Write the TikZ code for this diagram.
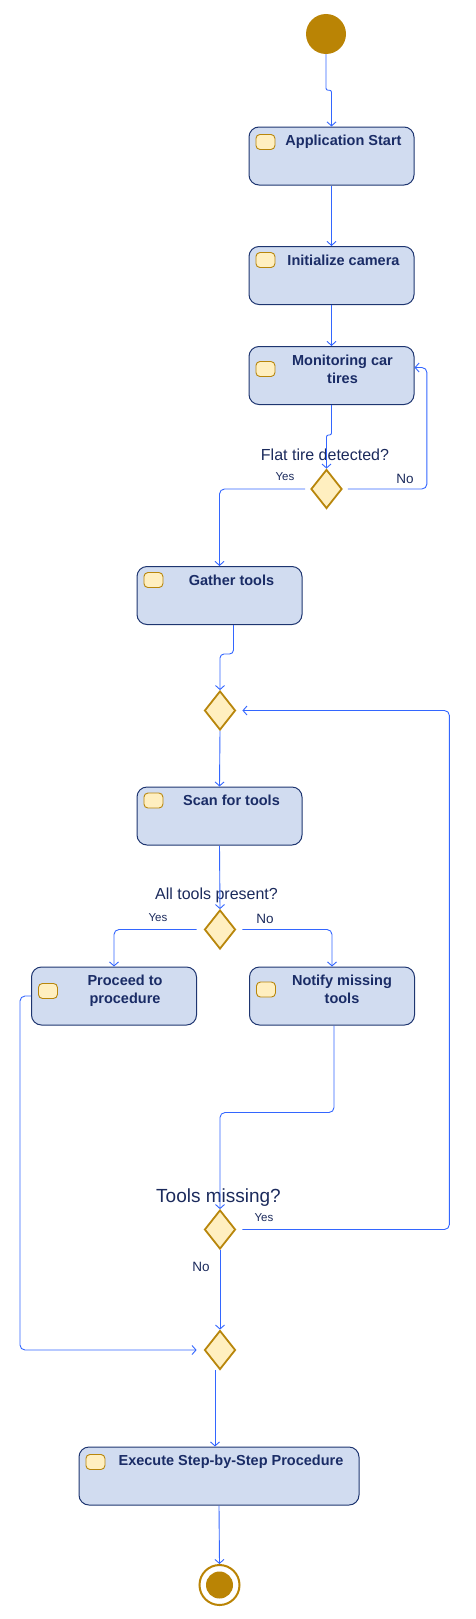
\documentclass[tikz,border=0pt]{standalone}
\usepackage{fontspec}
\setmainfont{Liberation Sans}
\usetikzlibrary{positioning, shapes.geometric, arrows.meta}

\definecolor{ActionFill}{HTML}{D1DCF0}
\definecolor{ActionBorder}{HTML}{1E3570}
\definecolor{ActionText}{HTML}{1A2C66}
\definecolor{LabelText}{HTML}{1B2A5C}
\definecolor{GoldFill}{HTML}{FFEFC0}
\definecolor{GoldBorder}{HTML}{B8860B}
\definecolor{FlowBlue}{HTML}{3366FF}
\definecolor{TerminalGold}{HTML}{BA8405}

\tikzset
{
  ActionNodeStyle/.style =
  {
    shape = rectangle,
    rounded corners = 10pt,
    minimum width = 165pt,
    minimum height = 58pt,
    fill = ActionFill,
    draw = ActionBorder,
    line width = 1pt,
  },
  ActionTextStyle/.style =
  {
    font = \bfseries\fontsize{14.5}{18}\selectfont,
    text = ActionText,
    align = center,
    inner sep = 0pt,
  },
  IconStyle/.style =
  {
    shape = rectangle,
    rounded corners = 4pt,
    minimum width = 19pt,
    minimum height = 15pt,
    inner sep = 0pt,
    fill = GoldFill,
    draw = GoldBorder,
    line width = 0.9pt,
  },
  DecisionNodeStyle/.style =
  {
    shape = diamond,
    minimum width = 31pt,
    minimum height = 39pt,
    inner sep = 0pt,
    fill = GoldFill,
    draw = GoldBorder,
    line width = 1.8pt,
  },
  QuestionStyle/.style =
  {
    font = \fontsize{16}{19}\selectfont,
    text = LabelText,
    inner sep = 0pt,
  },
  BranchLabelStyle/.style =
  {
    font = \fontsize{11.5}{14}\selectfont,
    text = LabelText,
    inner sep = 0pt,
  },
  NoLabelStyle/.style =
  {
    BranchLabelStyle,
    font = \fontsize{13.5}{16}\selectfont,
  },
  StartNodeStyle/.style =
  {
    shape = circle,
    minimum size = 40pt,
    inner sep = 0pt,
    fill = TerminalGold,
  },
  EndNodeStyle/.style =
  {
    shape = circle,
    minimum size = 40pt,
    inner sep = 0pt,
    draw = TerminalGold,
    line width = 2pt,
    fill = white,
  },
  EndDotStyle/.style =
  {
    shape = circle,
    minimum size = 27pt,
    inner sep = 0pt,
    fill = TerminalGold,
  },
  FlowArrowStyle/.style =
  {
    draw = FlowBlue,
    line width = 0.9pt,
    rounded corners = 5pt,
    -{Straight Barb[length=4pt,width=9pt]},
  }
}

\begin{document}
\begin{tikzpicture}[x=1pt, y=-1pt]
  \useasboundingbox (0,0) rectangle (476,1619);

  \node[StartNodeStyle] (start) at (326,34) {};

  \node[ActionNodeStyle] (app) at (331.5,156) {};
  \node[ActionTextStyle, below=8.5pt of app.north, xshift=12pt] (apptext) {Application Start};
  \node[IconStyle, anchor=west, xshift=7pt] (appicon) at (app.west |- apptext) {};

  \node[ActionNodeStyle] (init) at (331.5,275.5) {};
  \node[ActionTextStyle, below=8.5pt of init.north, xshift=12pt] (inittext) {Initialize camera};
  \node[IconStyle, anchor=west, xshift=7pt] (initicon) at (init.west |- inittext) {};

  \node[ActionNodeStyle] (monitor) at (331.5,375.5) {};
  \node[ActionTextStyle, below=8.5pt of monitor.north, xshift=11pt] (monitortext) {Monitoring car\\tires};
  \node[IconStyle, anchor=west, xshift=7pt] (monitoricon) at (monitor.west |- monitortext) {};

  \node[DecisionNodeStyle] (flat) at (326.5,489) {};
  \node[QuestionStyle] (flatq) at (325,455) {Flat tire detected?};
  \node[BranchLabelStyle] (flatyes) at (285,477) {Yes};
  \node[NoLabelStyle] (flatno) at (405,479) {No};

  \node[ActionNodeStyle] (gather) at (219.5,595.5) {};
  \node[ActionTextStyle, below=8.5pt of gather.north, xshift=12pt] (gathertext) {Gather tools};
  \node[IconStyle, anchor=west, xshift=7pt] (gathericon) at (gather.west |- gathertext) {};

  \node[DecisionNodeStyle] (merge1) at (220,710.5) {};

  \node[ActionNodeStyle] (scan) at (219.5,816) {};
  \node[ActionTextStyle, below=8.5pt of scan.north, xshift=12pt] (scantext) {Scan for tools};
  \node[IconStyle, anchor=west, xshift=7pt] (scanicon) at (scan.west |- scantext) {};

  \node[DecisionNodeStyle] (present) at (220,929.5) {};
  \node[QuestionStyle] (presentq) at (216.5,895) {All tools present?};
  \node[BranchLabelStyle] (presentyes) at (158,918) {Yes};
  \node[NoLabelStyle] (presentno) at (265,919) {No};

  \node[ActionNodeStyle] (proceed) at (114,996) {};
  \node[ActionTextStyle, below=8.5pt of proceed.north, xshift=11pt] (proceedtext) {Proceed to\\procedure};
  \node[IconStyle, anchor=west, xshift=7pt] (proceedicon) at (proceed.west |- proceedtext) {};

  \node[ActionNodeStyle] (notify) at (332,996) {};
  \node[ActionTextStyle, below=8.5pt of notify.north, xshift=10pt] (notifytext) {Notify missing\\tools};
  \node[IconStyle, anchor=west, xshift=7pt] (notifyicon) at (notify.west |- notifytext) {};

  \node[DecisionNodeStyle] (missing) at (220,1229.5) {};
  \node[QuestionStyle, font=\fontsize{19}{22}\selectfont] (missingq) at (218.5,1198) {Tools missing?};
  \node[BranchLabelStyle] (missingyes) at (264,1218) {Yes};
  \node[NoLabelStyle] (missingno) at (201,1267) {No};

  \node[DecisionNodeStyle] (merge2) at (220,1350) {};

  \node[ActionNodeStyle, minimum width=280pt] (execute) at (219,1476) {};
  \node[ActionTextStyle, below=8.5pt of execute.north, xshift=12pt] (executetext) {Execute Step-by-Step Procedure};
  \node[IconStyle, anchor=west, xshift=7pt] (executeicon) at (execute.west |- executetext) {};

  \node[EndNodeStyle] (final) at (219.5,1585) {};
  \node[EndDotStyle] (finaldot) at (final) {};

  \draw[FlowArrowStyle, rounded corners=2pt] (start.south) -- ++(0,36) -| (app.north);
  \draw[FlowArrowStyle] (app.south) -- (init.north);
  \draw[FlowArrowStyle] (init.south) -- (monitor.north);
  \draw[FlowArrowStyle, rounded corners=2pt] (monitor.south) -- ++(0,30) -| (flat.north);
  \draw[FlowArrowStyle, shorten <=5pt] (flat.west) -| (gather.north);
  \draw[FlowArrowStyle, shorten <=5pt] (flat.east) -- ++(84,0) |- ([yshift=8pt]monitor.east);
  \draw[FlowArrowStyle, rounded corners=4pt] ([xshift=14pt]gather.south) -- ++(0,29) -| (merge1.north);
  \draw[FlowArrowStyle] (merge1.south) -- (scan.north);
  \draw[FlowArrowStyle] (scan.south) -- (present.north);
  \draw[FlowArrowStyle, shorten <=7pt] (present.west) -| (proceed.north);
  \draw[FlowArrowStyle, shorten <=6pt] (present.east) -| (notify.north);
  \draw[FlowArrowStyle] ([xshift=2pt]notify.south) -- ++(0,87) -| (missing.north);
  \draw[FlowArrowStyle, shorten <=6pt, shorten >=6pt] (missing.east) -- ++(213,0) |- (merge1.east);
  \draw[FlowArrowStyle] (missing.south) -- (merge2.north);
  \draw[FlowArrowStyle, shorten >=7pt] (proceed.west) -- ++(-11,0) |- (merge2.west);
  \draw[FlowArrowStyle] ([xshift=-5pt]merge2.south) -- ([xshift=-4pt]execute.north);
  \draw[FlowArrowStyle] (execute.south) -- (final.north);
\end{tikzpicture}
\end{document}
